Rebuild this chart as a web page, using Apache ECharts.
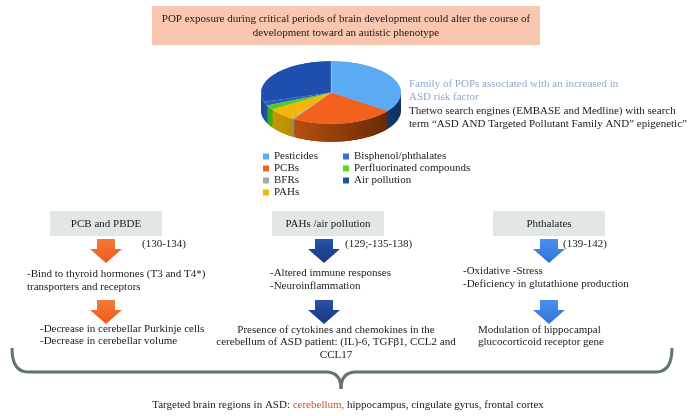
<!DOCTYPE html>
<html><head><meta charset="utf-8">
<script src="https://cdn.jsdelivr.net/npm/echarts@6/dist/echarts.min.js"></script>
<style>
html,body{margin:0;padding:0;background:#fff;}
#main{position:absolute;left:0;top:0;width:692px;height:416px;}
#pie{position:absolute;left:251px;top:61px;width:160px;height:220px;transform-origin:0 0;transform:scaleY(0.45);}
</style></head><body>
<div id="main"></div><div id="pie"></div>
<script>
// ---- data ----
const pollutants = ['Pesticides', 'PCBs', 'BFRs', 'PAHs', 'Perfluorinated compounds', 'Bisphenol/phthalates', 'Air pollution'];
const shares = [35, 24, 0.5, 6.5, 2.3, 2, 29.7];
const topColors = ['#5AABF3', '#F2621E', '#A3AAAA', '#F5B60A', '#4FCE22', '#2A5DC0', '#1F4FAE'];
const sideLight = ['#1D4C8E', '#B8500F', '#888E8E', '#C99A05', '#3BAE1A', '#2452A8', '#1E4A9E'];
const sideDark = ['#0E3266', '#6A2905', '#5A6060', '#9A7300', '#24800F', '#123578', '#12336F'];
const legendCol1 = ['Pesticides', 'PCBs', 'BFRs', 'PAHs'];
const legendCol2 = ['Bisphenol/phthalates', 'Perfluorinated compounds', 'Air pollution'];
const titleLines = ['POP exposure during critical periods of brain development could alter the course of', 'development toward an autistic phenotype'];
const pieNoteBlue = ['Family of POPs associated with an increased in', 'ASD risk factor'];
const pieNoteBlack = ['Thetwo search engines (EMBASE and Medline) with search', 'term \u201cASD AND Targeted Pollutant Family AND\u201d epigenetic\u201d'];
const groups = ['PCB and PBDE', 'PAHs /air pollution', 'Phthalates'];
const refs = ['(130-134)', '(129;-135-138)', '(139-142)'];
const effects1 = [['-Bind to thyroid hormones (T3 and T4*)', 'transporters and receptors'], ['-Altered immune responses', '-Neuroinflammation'], ['-Oxidative -Stress', '-Deficiency in glutathione production']];
const effects2 = [['-Decrease in cerebellar Purkinje cells', '-Decrease in cerebellar volume'], ['Presence of cytokines and chemokines in the', 'cerebellum of ASD patient: (IL)-6, TGF\u03b21, CCL2 and', 'CCL17'], ['Modulation of hippocampal', 'glucocorticoid receptor gene']];
const bottomText = 'Targeted brain regions in ASD: {o|cerebellum,} hippocampus, cingulate gyrus, frontal cortex';

const FONT = 'Liberation Serif';
const arrowColors = [['#F47A3A', '#EF5A17'], ['#2A52A6', '#163683'], ['#4C8FEE', '#2F74DC']];

// ---- pie (3D look: stacked layers, flattened by CSS) ----
const pieChart = echarts.init(document.getElementById('pie'), null, {renderer: 'canvas'});
const pieSeries = [];
const DEPTH = 20;
const grad = (a, b) => ({type: 'linear', x: 0, y: 0, x2: 1, y2: 0, colorStops: [{offset: 0, color: a}, {offset: 1, color: b}]});
for (let k = DEPTH; k >= 1; k--) {
  pieSeries.push({
    type: 'pie', radius: [0, 70], center: [80, 70 + k * 2], startAngle: 90, z: 1 + (DEPTH - k),
    silent: true, animation: false, label: {show: false}, labelLine: {show: false}, emphasis: {disabled: true},
    data: pollutants.map((n, i) => ({name: n, value: shares[i], itemStyle: {color: grad(sideLight[i], sideDark[i])}}))
  });
}
pieSeries.push({
  type: 'pie', radius: [0, 70], center: [80, 70], startAngle: 90, z: 40,
  silent: true, animation: false, label: {show: false}, labelLine: {show: false}, emphasis: {disabled: true},
  itemStyle: {borderColor: 'rgba(255,255,255,0.35)', borderWidth: 0.6},
  data: pollutants.map((n, i) => ({name: n, value: shares[i], itemStyle: {color: topColors[i]}}))
});
pieChart.setOption({animation: false, series: pieSeries});

// ---- main figure ----
const chart = echarts.init(document.getElementById('main'), null, {renderer: 'canvas'});
const legendColors = {'Pesticides': '#5AABF3', 'PCBs': '#F2621E', 'BFRs': '#A3AAAA', 'PAHs': '#F5B60A', 'Bisphenol/phthalates': '#3A6FD2', 'Perfluorinated compounds': '#5CD424', 'Air pollution': '#2050A8'};

const g = [];
function txt(x, y, s, opt) {
  g.push({type: 'text', x: x, y: y, silent: true, style: Object.assign({text: s, font: '11px "' + FONT + '"', fill: '#1a1a1a', textVerticalAlign: 'middle'}, opt || {})});
}
// title box
g.push({type: 'rect', shape: {x: 152, y: 6, width: 388, height: 39}, style: {fill: '#F9C6B0'}, silent: true});
txt(346, 19, titleLines[0], {textAlign: 'center'});
txt(346, 33, titleLines[1], {textAlign: 'center'});
// pie note
txt(409, 84, pieNoteBlue[0], {fill: '#8EAACC'});
txt(409, 97, pieNoteBlue[1], {fill: '#8EAACC'});
txt(409, 111, pieNoteBlack[0]);
txt(409, 124, pieNoteBlack[1]);

// columns
const colX = [106, 324, 549];
const boxes = [[50, 112], [272, 112], [493, 112]];
const refX = [142, 345, 563];
const e1 = [{x: 27, a: 'left', y: 274}, {x: 270, a: 'left', y: 273}, {x: 463, a: 'left', y: 271}];
const e2 = [{x: 40, a: 'left', y: 329}, {x: 336, a: 'center', y: 330}, {x: 478, a: 'left', y: 330}];
function arrow(cx, top, c) {
  g.push({type: 'polygon', silent: true,
    shape: {points: [[cx - 9, top], [cx + 9, top], [cx + 9, top + 10], [cx + 16, top + 10], [cx, top + 24], [cx - 16, top + 10], [cx - 9, top + 10]]},
    style: {fill: {type: 'linear', x: 0, y: 0, x2: 0, y2: 1, colorStops: [{offset: 0, color: c[0]}, {offset: 1, color: c[1]}]}}});
}
for (let i = 0; i < 3; i++) {
  g.push({type: 'rect', shape: {x: boxes[i][0], y: 211, width: boxes[i][1], height: 25}, style: {fill: '#E1E7E5'}, silent: true});
  txt(boxes[i][0] + boxes[i][1] / 2, 224, groups[i], {textAlign: 'center'});
  arrow(colX[i], 239, arrowColors[i]);
  txt(refX[i], 244, refs[i]);
  effects1[i].forEach((s, j) => txt(e1[i].x, e1[i].y + j * 13.5, s, {textAlign: e1[i].a}));
  arrow(colX[i], 300, arrowColors[i]);
  effects2[i].forEach((s, j) => txt(e2[i].x, e2[i].y + j * 12.5, s, {textAlign: e2[i].a}));
}
// brace
const braceStyle = {stroke: '#5F7472', lineWidth: 3, fill: null};
g.push({type: 'bezierCurve', silent: true, shape: {x1: 12, y1: 348, cpx1: 12, cpy1: 372, x2: 28, y2: 372}, style: braceStyle});
g.push({type: 'line', silent: true, shape: {x1: 28, y1: 372, x2: 326, y2: 372}, style: braceStyle});
g.push({type: 'bezierCurve', silent: true, shape: {x1: 326, y1: 372, cpx1: 341, cpy1: 372, x2: 341, y2: 389}, style: braceStyle});
g.push({type: 'bezierCurve', silent: true, shape: {x1: 341, y1: 389, cpx1: 341, cpy1: 372, x2: 356, y2: 372}, style: braceStyle});
g.push({type: 'line', silent: true, shape: {x1: 356, y1: 372, x2: 656, y2: 372}, style: braceStyle});
g.push({type: 'bezierCurve', silent: true, shape: {x1: 656, y1: 372, cpx1: 672, cpy1: 372, x2: 672, y2: 348}, style: braceStyle});
txt(348, 405, bottomText, {textAlign: 'center', font: '11px "' + FONT + '"', rich: {o: {fill: '#D0511F', font: '11px "' + FONT + '"'}}});

const legendStyle = {itemWidth: 6, itemHeight: 6, icon: 'rect', orient: 'vertical', itemGap: 1, padding: 0, selectedMode: false,
  textStyle: {fontFamily: FONT, fontSize: 11, color: '#1a1a1a', lineHeight: 11}};
chart.setOption({
  animation: false,
  legend: [
    Object.assign({left: 263, top: 151, data: legendCol1}, legendStyle),
    Object.assign({left: 343, top: 151, data: legendCol2}, legendStyle)
  ],
  series: [{
    type: 'pie', radius: [0, 0], center: [-50, -50], silent: true, label: {show: false}, labelLine: {show: false},
    data: pollutants.map((n, i) => ({name: n, value: shares[i], itemStyle: {color: legendColors[n]}}))
  }],
  graphic: g
});
</script></body></html>
